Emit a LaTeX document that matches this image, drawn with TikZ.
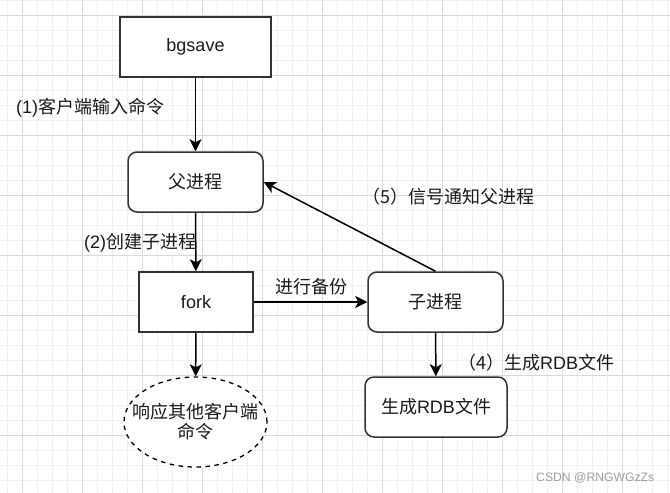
\documentclass[tikz,border=0pt]{standalone}
\usepackage{fontspec}
\setmainfont{Liberation Sans}
\newfontfamily\cjk{Noto Sans CJK SC}
\newcommand{\zh}[1]{{\cjk #1}}
\usetikzlibrary{arrows.meta,shapes.geometric}
\definecolor{gridminor}{HTML}{F0F0F0}
\definecolor{gridmajor}{HTML}{DADADA}
\definecolor{boxline}{HTML}{333333}
\definecolor{txt}{HTML}{1A1A1A}
\begin{document}
\begin{tikzpicture}[x=1pt,y=-1pt,
  every node/.style={font=\fontsize{18}{20}\selectfont, text=txt},
  sq/.style={draw=boxline, line width=1.5pt, fill=white, inner sep=0pt},
  rnd/.style={draw=boxline, line width=1.5pt, fill=white, rounded corners=9pt, inner sep=0pt},
  ell/.style={draw=black, line width=1.3pt, dash pattern=on 4.5pt off 4.5pt, fill=white, ellipse, inner sep=0pt},
  lbl/.style={inner sep=0pt, anchor=west},
  arr/.style={draw=black, line width=1.5pt, -{Stealth[length=12pt,width=12pt,inset=3pt]}}]
\useasboundingbox (0,0) rectangle (670,493);
\fill[white] (0,0) rectangle (670,493);
% grid
\foreach \i in {0,...,44} {\draw[gridminor, line width=0.8pt] ({7+15*\i},0) -- ({7+15*\i},493);}
\foreach \j in {0,...,32} {\draw[gridminor, line width=0.8pt] (0,{15*\j}) -- (670,{15*\j});}
\foreach \i in {0,...,10} {\draw[gridmajor, line width=0.8pt] ({22+60*\i},0) -- ({22+60*\i},493);}
\foreach \j in {0,...,7} {\draw[gridmajor, line width=0.8pt] (0,{15+60*\j}) -- (670,{15+60*\j});}
% nodes
\node[sq, minimum width=151pt, minimum height=60pt] (bg) at (195.5,47) {bgsave};
\node[rnd, minimum width=135pt, minimum height=60pt] (par) at (195.5,182) {\zh{父进程}};
\node[sq, minimum width=114pt, minimum height=60pt] (fork) at (196,302) {fork};
\node[ell, minimum width=143pt, minimum height=90pt] (resp) at (195.5,422) {};
\node[inner sep=0pt, align=center] (resptxt) at (resp.center) {\zh{响应其他客户端}\\\zh{命令}};
\node[rnd, minimum width=135pt, minimum height=60pt] (child) at (435.5,302) {\zh{子进程}};
\node[rnd, minimum width=142pt, minimum height=60pt] (rdb) at (436,407) {\zh{生成}RDB\zh{文件}};
% labels
\node[lbl] (l1) at (16,108) {(1)\zh{客户端输入命令}};
\node[lbl] (l2) at (84,243) {(2)\zh{创建子进程}};
\node[lbl] (l3) at (275,287) {\zh{进行备份}};
\node[lbl] (l5) at (362,197) {\zh{（5）信号通知父进程}};
\node[lbl] (l4) at (458,363) {\zh{（4）生成}RDB\zh{文件}};
\node[inner sep=0pt, anchor=west, font=\fontsize{12.2}{14}\selectfont, text=black!38] (wm) at (536,478) {CSDN @RNGWGzZs};
% connectors
\draw[arr] (bg) -- (par);
\draw[arr] (par) -- (fork);
\draw[arr] (fork) -- (resp);
\draw[arr] (fork) -- (child);
\draw[arr] (child) -- (rdb);
\draw[arr] (child.north) -- (par.east);
\end{tikzpicture}
\end{document}
